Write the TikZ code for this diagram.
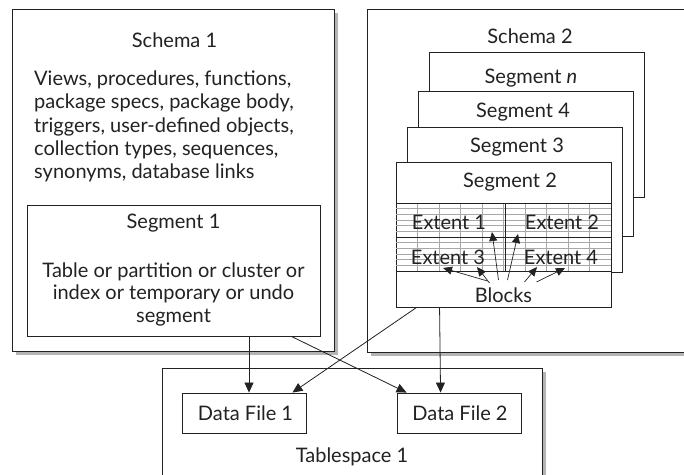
\documentclass[tikz,border=0pt]{standalone}
\usepackage{fontspec}
\setmainfont{Lato}
\usetikzlibrary{arrows.meta,shadows,calc}
\definecolor{ln}{HTML}{222222}
\definecolor{shd}{HTML}{B4B4B4}
\definecolor{grd}{HTML}{A8A8A8}
\tikzset{
  x=1pt,y=-1pt,
  box/.style={draw=ln,line width=0.9pt,fill=white,rectangle,inner sep=0pt},
  shbox/.style={box,drop shadow={shadow xshift=3.5pt,shadow yshift=-3.5pt,fill=shd,opacity=1}},
  lbl/.style={font=\fontsize{20}{23.3}\selectfont,text=ln,inner sep=0pt},
  arr/.style={draw=ln,line width=0.8pt,-{Triangle[length=10pt,width=9pt]}},
  garr/.style={draw=ln,line width=0.7pt,-{Triangle[length=9pt,width=8pt]}},
}
\begin{document}
\begin{tikzpicture}
\useasboundingbox (0,0) rectangle (684,474);
\clip (0,0) rectangle (684,474);
\fill[white] (0,0) rectangle (684,474);
% Schema 1
\node[shbox,minimum width=322pt,minimum height=342pt] (sch1) at (173.5,180) {};
\node[lbl] (sch1t) at (174.5,40) {Schema 1};
\node[lbl,align=left,anchor=west] (sch1b) at (34,126.5) {Views, procedures, functions,\\package specs, package body,\\triggers, user-defined objects,\\collection types, sequences,\\synonyms, database links};
\node[box,minimum width=293pt,minimum height=131pt] (seg1) at (173.5,270.5) {};
\node[lbl] (seg1t) at (173.5,223) {Segment 1};
\node[lbl,align=center,font=\fontsize{20}{22.5}\selectfont] (seg1b) at (173.5,294) {Table or partition or cluster or\\index or temporary or undo\\segment};
% Schema 2
\node[shbox,minimum width=340pt,minimum height=343pt] (sch2) at (537,180.5) {};
\node[lbl] (sch2t) at (530,36) {Schema 2};
\node[box,minimum width=215pt,minimum height=145pt] (segn) at (536.5,124.5) {};
\node[lbl] (segnt) at (531,78) {Segment \textit{n}};
\node[box,minimum width=215pt,minimum height=145pt] (seg4) at (525.5,163.5) {};
\node[lbl] (seg4t) at (523,112) {Segment 4};
\node[box,minimum width=215pt,minimum height=145pt] (seg3) at (514.5,199.5) {};
\node[lbl] (seg3t) at (517,147) {Segment 3};
\node[box,minimum width=215pt,minimum height=145pt] (seg2) at (503.5,234.5) {};
\node[lbl] (seg2t) at (510,182) {Segment 2};
% grid
\begin{scope}
\foreach \i in {1,...,11} \draw[grd,line width=0.5pt] (396,{203+\i*68/12}) -- (611,{203+\i*68/12});
\foreach \i in {1,...,9} \draw[grd,line width=0.5pt] ({396+\i*21.5},203) -- ({396+\i*21.5},271);
\draw[ln,line width=0.8pt] (396,203) -- (611,203);
\draw[ln,line width=0.8pt] (396,271) -- (611,271);
\draw[ln,line width=0.6pt] (396,237) -- (611,237);
\draw[ln,line width=0.6pt] (505,203) -- (505,271);
\end{scope}
\node[lbl] (e1) at (449,222) {Extent 1};
\node[lbl] (e2) at (562,222) {Extent 2};
\node[lbl] (e3) at (448,257) {Extent 3};
\node[lbl] (e4) at (561,257) {Extent 4};
\node[lbl] (blocks) at (503.5,295) {Blocks};
\coordinate (t1) at (443,268);
\coordinate (t2) at (477,267);
\coordinate (t3) at (492,232);
\coordinate (t4) at (518,234);
\coordinate (t5) at (537,267);
\coordinate (t6) at (565,268);
\draw[garr] ([shift={(-16,-14)}]blocks.center) -- (t1);
\draw[garr] ([shift={(-14,-12)}]blocks.center) -- (t2);
\draw[garr] ([shift={(-5,-15)}]blocks.center) -- (t3);
\draw[garr] ([shift={(4,-15)}]blocks.center) -- (t4);
\draw[garr] ([shift={(21,-13)}]blocks.center) -- (t5);
\draw[garr] ([shift={(33,-13)}]blocks.center) -- (t6);
% Tablespace
\node[shbox,minimum width=380pt,minimum height=140pt] (ts) at (352,438) {};
\node[lbl] (tst) at (352,457) {Tablespace 1};
\node[box,minimum width=124pt,minimum height=40pt] (df1) at (244,413) {};
\node[lbl] (df1t) at (245.5,413) {Data File 1};
\node[box,minimum width=124pt,minimum height=40pt] (df2) at (459,413) {};
\node[lbl] (df2t) at (460,413) {Data File 2};
% connectors
\draw[arr] ([xshift=5pt]df1.north |- seg1.south) -- ([xshift=5pt]df1.north);
\draw[arr] ([xshift=-29pt]seg1.south east) -- ([xshift=10pt]df2.north west);
\draw[arr] ([xshift=21pt]seg2.south west) -- ([xshift=-14pt]df1.north east);
\draw[arr] ([xshift=44pt]seg2.south west) -- ([xshift=44pt]df2.north west);
\end{tikzpicture}
\end{document}
